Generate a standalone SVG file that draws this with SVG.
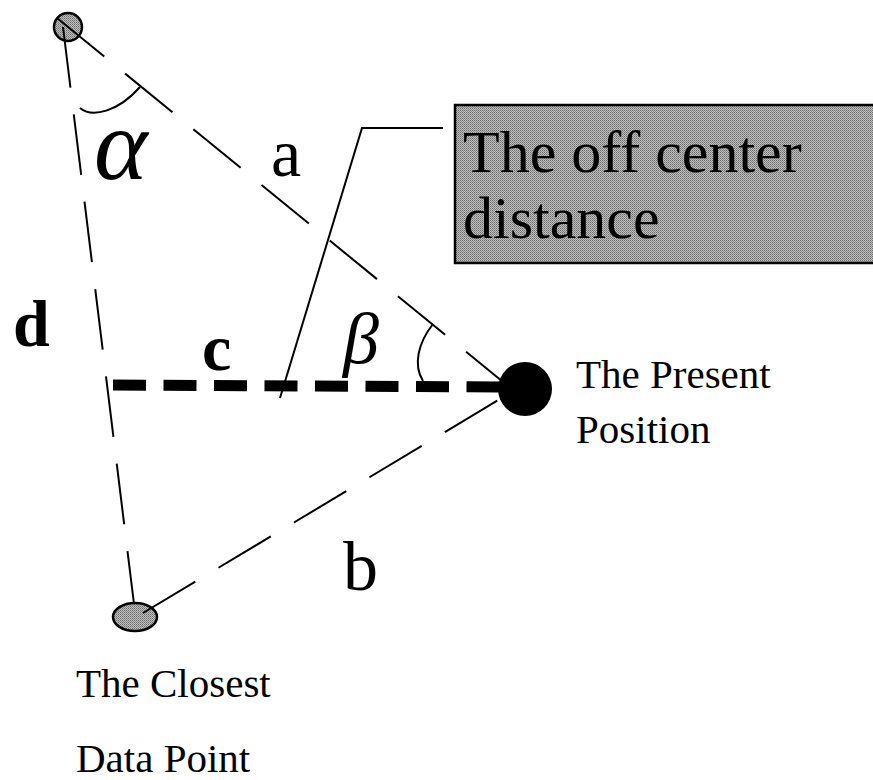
<svg xmlns="http://www.w3.org/2000/svg" width="873" height="780" viewBox="0 0 873 780">
<style>
.thin{fill:none;stroke:#000;stroke-width:2}
.dash{stroke-dasharray:61 27}
.serif{font-family:"Liberation Serif","Times New Roman",serif;fill:#000}
.bold{font-weight:bold}
.ital{font-style:italic}
</style>
<defs>
<pattern id="stip" width="2" height="2" patternUnits="userSpaceOnUse">
<rect width="2" height="2" fill="#bdbdbd"/>
<rect width="1" height="1" fill="#6e6e6e"/>
<rect x="1" y="1" width="1" height="1" fill="#8c8c8c"/>
</pattern>
</defs>
<rect width="873" height="780" fill="#fff"/>
<g id="callout-box">
<rect x="455" y="105" width="420" height="158" fill="url(#stip)" stroke="#000" stroke-width="2.5"/>
<text class="serif" x="463" y="172" font-size="60">The off center</text>
<text class="serif" x="463" y="238" font-size="60">distance</text>
</g>
<g id="top-point">
<circle cx="68" cy="27" r="14" fill="url(#stip)" stroke="#000" stroke-width="2.5"/>
</g>
<g id="closest-point">
<ellipse cx="135" cy="617" rx="22" ry="14" fill="url(#stip)" stroke="#000" stroke-width="2.5"/>
</g>
<g id="connectors">
<line class="thin dash" x1="57" y1="18" x2="508" y2="386"/>
<line class="thin dash" x1="63" y1="27" x2="134" y2="604"/>
<line class="thin dash" x1="143" y1="613" x2="505" y2="396"/>
<line x1="113" y1="385" x2="505" y2="387" stroke="#000" stroke-width="11" stroke-dasharray="33 17.5"/>
<polyline class="thin" stroke-width="1.6" points="443,128 362,128 280,398"/>
<path class="thin" d="M80 108 C92 118 118 112 140 87"/>
<path class="thin" d="M423 381 C413 365 418 343 433 324"/>
</g>
<g id="present-position">
<circle cx="525" cy="389" r="27" fill="#000"/>
<text class="serif" x="576" y="388" font-size="41">The Present</text>
<text class="serif" x="576" y="443" font-size="41">Position</text>
</g>
<g id="labels">
<text class="serif" x="271" y="176" font-size="68">a</text>
<text class="serif" x="343" y="590" font-size="70">b</text>
<text class="serif bold" x="13" y="346" font-size="66">d</text>
<text class="serif bold" x="202" y="370" font-size="66">c</text>
<text class="serif ital" x="94" y="179" font-size="102">α</text>
<text class="serif ital" x="343" y="363" font-size="72">β</text>
<text class="serif" x="76" y="697" font-size="41">The Closest</text>
<text class="serif" x="76" y="772" font-size="41">Data Point</text>
</g>
</svg>
